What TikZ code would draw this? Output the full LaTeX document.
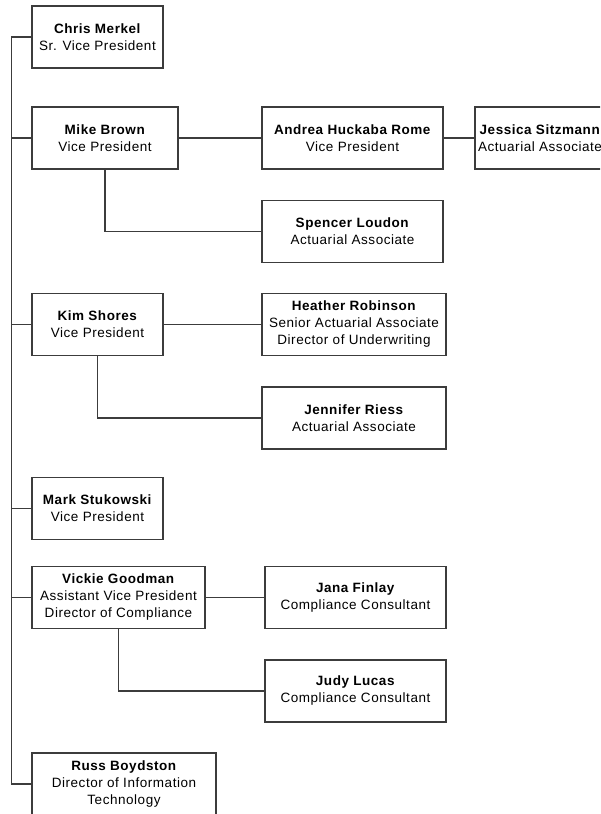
\documentclass[tikz,border=0pt]{standalone}
\usepackage{fontspec}
\setmainfont[LetterSpace=4]{Liberation Sans}
\definecolor{linegray}{HTML}{3C3C3C}
\tikzset{
	person/.style={draw=linegray, line width=1.3pt, align=center, inner sep=0pt, minimum height=62pt, font=\fontsize{13.5}{17}\selectfont},
	link/.style={draw=linegray, line width=1.2pt}
}
\begin{document}
\begin{tikzpicture}[x=1pt,y=-1pt]
	\useasboundingbox (0,0) rectangle (600,814);
	\clip (0,0) rectangle (600,814);
	\node[person, minimum width=131pt] (chris) at (97.5,37) {\textbf{Chris Merkel}\\Sr. Vice President};
	\node[person, minimum width=146pt] (mike) at (105,138) {\textbf{Mike Brown}\\Vice President};
	\node[person, minimum width=181pt] (andrea) at (352.5,138) {\textbf{Andrea Huckaba Rome}\\Vice President};
	\node[person, minimum width=130pt] (jessica) at (540,138) {\textbf{Jessica Sitzmann}\\Actuarial Associate};
	\node[person, minimum width=181pt] (spencer) at (352.5,231.5) {\textbf{Spencer Loudon}\\Actuarial Associate};
	\node[person, minimum width=131pt] (kim) at (97.5,324.5) {\textbf{Kim Shores}\\Vice President};
	\node[person, minimum width=184pt] (heather) at (354,324.5) {\textbf{Heather Robinson}\\Senior Actuarial Associate\\Director of Underwriting};
	\node[person, minimum width=184pt] (jennifer) at (354,418) {\textbf{Jennifer Riess}\\Actuarial Associate};
	\node[person, minimum width=131pt] (mark) at (97.5,508.5) {\textbf{Mark Stukowski}\\Vice President};
	\node[person, minimum width=173pt] (vickie) at (118.5,597.5) {\textbf{Vickie Goodman}\\Assistant Vice President\\Director of Compliance};
	\node[person, minimum width=181pt] (jana) at (355.5,597.5) {\textbf{Jana Finlay}\\Compliance Consultant};
	\node[person, minimum width=181pt] (judy) at (355.5,691) {\textbf{Judy Lucas}\\Compliance Consultant};
	\node[person, minimum width=184pt] (russ) at (124,784) {\textbf{Russ Boydston}\\Director of Information\\Technology};
	\draw[link] (chris.west) -- ++(-20,0) |- (russ.west);
	\draw[link] (mike.west) -- ++(-20,0);
	\draw[link] (kim.west) -- ++(-20,0);
	\draw[link] (mark.west) -- ++(-20,0);
	\draw[link] (vickie.west) -- ++(-20,0);
	\draw[link] (mike.east) -- (andrea.west);
	\draw[link] (andrea.east) -- (jessica.west);
	\draw[link] (mike.south) |- (spencer.west);
	\draw[link] (kim.east) -- (heather.west);
	\draw[link] (kim.south) |- (jennifer.west);
	\draw[link] (vickie.east) -- (jana.west);
	\draw[link] (vickie.south) |- (judy.west);
\end{tikzpicture}
\end{document}
